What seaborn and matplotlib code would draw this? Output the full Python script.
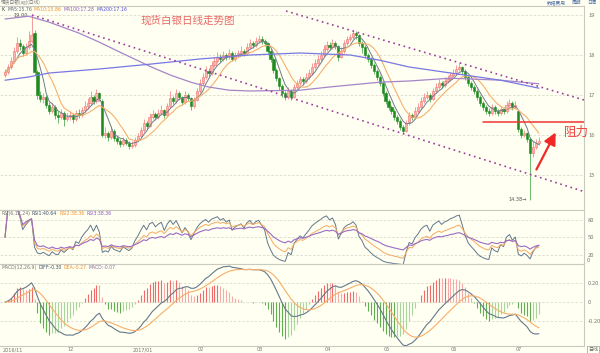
import numpy as np
import pandas as pd
import matplotlib
matplotlib.use("Agg")
import matplotlib.pyplot as plt
from matplotlib.transforms import blended_transform_factory
import seaborn as sns

# ---------------- data ----------------
opens = [17.50,17.57,17.70,17.85,18.10,18.30,18.22,18.05,18.20,18.35,
         18.55,17.57,17.00,16.90,16.95,16.75,16.60,16.70,16.50,16.45,
         16.55,16.40,16.45,16.50,16.40,16.55,16.50,16.62,16.72,16.80,
         16.95,16.85,17.05,16.85,16.00,16.05,15.95,16.10,15.92,15.85,
         15.78,15.88,15.80,15.72,15.76,15.88,15.98,16.12,16.30,16.22,
         16.45,16.52,16.45,16.55,16.62,16.50,16.72,16.92,16.85,17.05,
         16.95,16.82,17.00,16.92,16.72,16.88,17.10,17.30,17.45,17.60,
         17.55,17.75,17.85,17.95,17.90,18.00,17.95,18.05,17.90,18.00,
         18.05,18.10,18.05,18.20,18.30,18.25,18.35,18.40,18.35,18.30,
         18.10,17.90,17.62,17.42,17.22,17.05,16.95,17.10,16.95,17.20,
         17.30,17.40,17.35,17.45,17.55,17.70,17.80,17.90,18.00,18.15,
         18.25,18.20,18.30,18.22,17.95,18.10,18.30,18.40,18.45,18.55,
         18.50,18.30,18.20,18.00,17.90,17.75,17.60,17.45,17.30,17.05,
         16.85,16.70,16.60,16.45,16.35,16.20,16.10,16.30,16.50,16.45,
         16.60,16.70,16.85,16.95,17.00,16.90,17.10,17.20,17.30,17.25,
         17.35,17.40,17.50,17.55,17.65,17.70,17.60,17.45,17.30,17.20,
         17.10,16.95,16.80,16.70,16.60,16.55,16.70,16.60,16.55,16.65,
         16.60,16.75,16.80,16.70,16.60,16.15,16.00,16.05,15.90,15.55,
         15.70,15.80]
closes = [17.57,17.70,17.85,18.10,18.30,18.22,18.05,18.20,18.35,18.50,
          17.57,17.00,16.90,16.95,16.75,16.60,16.70,16.50,16.45,16.55,
          16.40,16.45,16.50,16.40,16.55,16.50,16.62,16.72,16.80,16.95,
          16.85,17.05,16.92,16.00,16.05,15.95,16.10,15.92,15.85,15.78,
          15.88,15.80,15.72,15.76,15.88,15.98,16.12,16.30,16.22,16.45,
          16.52,16.45,16.55,16.62,16.50,16.72,16.92,16.85,17.05,16.95,
          16.82,17.00,16.92,16.72,16.88,17.10,17.30,17.45,17.60,17.55,
          17.75,17.85,17.95,17.90,18.00,17.95,18.05,17.90,18.00,18.05,
          18.10,18.05,18.20,18.30,18.25,18.35,18.40,18.35,18.30,18.10,
          17.90,17.62,17.42,17.22,17.05,16.95,17.10,16.95,17.20,17.30,
          17.40,17.35,17.45,17.55,17.70,17.80,17.90,18.00,18.15,18.25,
          18.20,18.30,18.22,17.95,18.10,18.30,18.40,18.45,18.55,18.50,
          18.30,18.20,18.00,17.90,17.75,17.60,17.45,17.30,17.05,16.85,
          16.70,16.60,16.45,16.35,16.20,16.10,16.30,16.50,16.45,16.60,
          16.70,16.85,16.95,17.00,16.90,17.10,17.20,17.30,17.25,17.35,
          17.40,17.50,17.55,17.65,17.70,17.60,17.45,17.30,17.20,17.10,
          16.95,16.80,16.70,16.60,16.55,16.70,16.60,16.55,16.65,16.60,
          16.75,16.80,16.70,16.75,16.15,16.00,16.05,15.90,15.55,15.70,
          15.80,15.85]
highs = [17.65,17.78,17.95,18.20,18.45,18.40,18.28,18.30,18.60,19.00,
         18.62,17.62,17.10,17.05,17.00,16.82,16.80,16.75,16.60,16.65,
         16.60,16.55,16.60,16.55,16.62,16.65,16.70,16.85,16.92,17.10,
         17.00,17.15,17.08,16.90,16.20,16.10,16.22,16.15,15.98,15.90,
         15.95,15.92,15.85,15.85,15.95,16.05,16.20,16.40,16.35,16.55,
         16.62,16.58,16.65,16.75,16.66,16.80,17.10,16.98,17.15,17.10,
         16.98,17.10,17.05,16.95,16.95,17.18,17.40,17.55,17.72,17.68,
         17.85,17.95,18.08,18.02,18.10,18.05,18.15,18.10,18.08,18.12,
         18.22,18.15,18.30,18.40,18.35,18.45,18.50,18.48,18.40,18.33,
         18.15,17.95,17.68,17.45,17.28,17.10,17.20,17.15,17.28,17.38,
         17.48,17.45,17.55,17.65,17.80,17.90,18.00,18.10,18.25,18.35,
         18.32,18.40,18.35,18.25,18.20,18.38,18.48,18.52,18.62,18.60,
         18.52,18.35,18.25,18.05,17.95,17.80,17.65,17.50,17.35,17.10,
         16.90,16.75,16.65,16.50,16.40,16.25,16.38,16.58,16.55,16.70,
         16.80,16.95,17.05,17.10,17.05,17.18,17.30,17.40,17.35,17.45,
         17.50,17.58,17.65,17.75,17.80,17.72,17.65,17.50,17.35,17.25,
         17.15,17.00,16.85,16.75,16.68,16.78,16.75,16.65,16.72,16.70,
         16.85,16.90,16.85,16.85,16.62,16.20,16.12,16.08,15.95,15.85,
         15.90,15.95]
lows = [17.45,17.52,17.65,17.80,18.05,18.12,17.98,18.00,18.15,18.30,
        17.50,16.90,16.82,16.80,16.68,16.52,16.55,16.40,16.30,16.40,
        16.22,16.35,16.38,16.30,16.35,16.42,16.45,16.58,16.65,16.75,
        16.78,16.80,16.85,15.95,15.92,15.85,15.90,15.85,15.78,15.70,
        15.72,15.74,15.65,15.68,15.70,15.85,15.95,16.08,16.15,16.20,
        16.40,16.38,16.40,16.50,16.42,16.48,16.68,16.78,16.80,16.88,
        16.75,16.78,16.85,16.62,16.68,16.85,17.05,17.25,17.40,17.45,
        17.50,17.70,17.80,17.82,17.85,17.88,17.90,17.85,17.85,17.95,
        18.00,17.98,18.02,18.15,18.18,18.20,18.30,18.28,18.22,18.02,
        17.82,17.55,17.35,17.12,16.95,16.88,16.90,16.88,16.92,17.15,
        17.25,17.28,17.30,17.40,17.50,17.65,17.75,17.85,17.95,18.10,
        18.12,18.15,18.15,17.85,17.92,18.05,18.25,18.35,18.40,18.40,
        18.22,18.05,17.92,17.82,17.68,17.52,17.38,17.22,16.98,16.78,
        16.62,16.52,16.38,16.28,16.12,16.05,16.08,16.25,16.38,16.40,
        16.55,16.65,16.80,16.90,16.82,16.88,17.05,17.15,17.18,17.20,
        17.30,17.35,17.45,17.50,17.60,17.52,17.38,17.22,17.12,17.02,
        16.88,16.72,16.62,16.52,16.48,16.50,16.52,16.48,16.50,16.52,
        16.55,16.70,16.62,16.65,16.08,15.92,15.95,15.82,14.38,15.45,
        15.65,15.75]

ma100_idx = [0, 8, 15, 25, 32, 39, 49, 56, 63, 69, 76, 83, 100, 110, 117, 127, 137, 151, 168, 181]
ma100_val = [18.90, 18.97, 18.82, 18.55, 18.32, 18.07, 17.72, 17.50, 17.32, 17.20,
             17.12, 17.10, 17.12, 17.20, 17.25, 17.32, 17.35, 17.42, 17.37, 17.28]
ma200_idx = [0, 8, 15, 32, 49, 66, 83, 100, 117, 127, 137, 151, 168, 181]
ma200_val = [17.37, 17.45, 17.55, 17.65, 17.77, 17.90, 18.00, 18.05, 18.00, 17.87,
             17.70, 17.55, 17.37, 17.17]

month_idx = [0, 22, 44, 66, 86, 109, 129, 152, 174]
month_labels = ["2016/11", "12", "2017/01", "02", "03", "04", "05", "06", "07"]

trend_lower_x = [9.15, 196.3]
trend_lower_y = [19.0, 14.585]
trend_upper_x = [95.25, 196.3]
trend_upper_y = [19.1, 16.875]
resist_x = [162, 196.3]
resist_y = [16.33, 16.33]
arrow_tail = (179.7, 15.075)
arrow_head = (187.1, 16.125)
peak_idx, peak_val = 9, 19.00
low_idx, low_val = 178, 14.38

price_ticks = [15, 16, 17, 18, 19]
rsi_ticks = [20, 50, 80]
macd_ticks = [-0.2, 0, 0.2]
macd_tick_labels = ["-0.20", "0", "0.20"]

# ---------------- style ----------------
sns.set_theme(style="white")
plt.rcParams["font.family"] = ["Noto Sans CJK SC", "DejaVu Sans"]
BG = "#fffff2"
GRID = "#d9d9cc"
SP = "#c9c9c0"

df = pd.DataFrame({"i": np.arange(len(closes)), "open": opens, "close": closes,
                   "high": highs, "low": lows})
df["ma5"] = df["close"].rolling(5, min_periods=1).mean()
df["ma10"] = df["close"].rolling(10, min_periods=1).mean()

# RSI (Wilder smoothing)
delta = df["close"].diff().fillna(0)
up = delta.clip(lower=0)
absd = delta.abs()
for n, col in [(6, "rsi1"), (12, "rsi2"), (24, "rsi3")]:
    a = up.ewm(alpha=1 / n, adjust=False).mean()
    b = absd.ewm(alpha=1 / n, adjust=False).mean()
    df[col] = (a / b.replace(0, np.nan) * 100).fillna(50)

ema12 = df["close"].ewm(span=12, adjust=False).mean()
ema26 = df["close"].ewm(span=26, adjust=False).mean()
df["diff"] = ema12 - ema26
df["dea"] = df["diff"].ewm(span=9, adjust=False).mean()
df["macd"] = 2 * (df["diff"] - df["dea"])

fig = plt.figure(figsize=(6.0, 3.53), dpi=100, facecolor=BG)
H = 353.0
W = 600.0
renderer = fig.canvas.get_renderer()


def box(y_top, y_bot):
    return [0.0, 1 - y_bot / H, 584 / W, (y_bot - y_top) / H]


def seq_text(x0, ypx, parts, fs=3.3, gap=2.0, family="DejaVu Sans"):
    x = x0
    for txt, col in parts:
        t = fig.text(x / W, 1 - ypx / H, txt, fontsize=fs, color=col, ha="left",
                     va="center", family=family)
        x += t.get_window_extent(renderer=renderer).width + gap


ax = fig.add_axes(box(6, 210))
axr = fig.add_axes(box(210, 264))
axm = fig.add_axes(box(264, 346))

xlim = ((0 - 5) / 2.95, (584 - 5) / 2.95)
for a in (ax, axr, axm):
    a.set_facecolor(BG)
    a.set_xlim(*xlim)
    a.set_xticks([])
    a.yaxis.tick_right()
    a.tick_params(axis="y", length=0, pad=3, labelsize=4.2, labelcolor="#777777")
    for s in a.spines.values():
        s.set_color(SP)
        s.set_linewidth(0.8)
    a.spines["left"].set_visible(False)

# ---- main panel ----
ax.set_ylim(14.125, 19.225)
ax.set_yticks(price_ticks)
ax.set_yticklabels([str(t) for t in price_ticks])
for t in price_ticks:
    ax.axhline(t, color=GRID, lw=0.6, ls=(0, (3, 2)), zorder=0)

upm = df["close"] >= df["open"]
dn = ~upm
ax.vlines(df.loc[upm, "i"], df.loc[upm, "low"], df.loc[upm, "high"], color="#f39a9a", lw=0.7, zorder=2)
ax.vlines(df.loc[dn, "i"], df.loc[dn, "low"], df.loc[dn, "high"], color="#6cba6c", lw=0.7, zorder=2)
ax.bar(df.loc[upm, "i"], (df.loc[upm, "close"] - df.loc[upm, "open"]).clip(lower=0.015),
       bottom=df.loc[upm, "open"], width=0.72, color="#fab4ae", edgecolor="#f07070", lw=0.4, zorder=3)
ax.bar(df.loc[dn, "i"], (df.loc[dn, "open"] - df.loc[dn, "close"]), bottom=df.loc[dn, "close"],
       width=0.72, color="#1f8a1f", edgecolor="#1f8a1f", lw=0.4, zorder=3)

sns.lineplot(data=df, x="i", y="ma5", ax=ax, color="#6f7c8c", lw=0.7, zorder=4)
sns.lineplot(data=df, x="i", y="ma10", ax=ax, color="#f7b06e", lw=0.8, zorder=4)
sns.lineplot(x=ma100_idx, y=ma100_val, ax=ax, color="#a585c8", lw=0.9, zorder=4)
sns.lineplot(x=ma200_idx, y=ma200_val, ax=ax, color="#7878e4", lw=0.9, zorder=4)

ax.plot(trend_lower_x, trend_lower_y, color="#a03c9c", lw=1.2, ls=(0, (1, 2.2)), zorder=5)
ax.plot(trend_upper_x, trend_upper_y, color="#a03c9c", lw=1.2, ls=(0, (1, 2.2)), zorder=5)
ax.plot(resist_x, resist_y, color="#f03535", lw=1.1, zorder=5)
ax.annotate("", xy=arrow_head, xytext=arrow_tail,
            arrowprops=dict(arrowstyle="-|>,head_length=0.6,head_width=0.3", color="#f02828", lw=1.6),
            zorder=6)
ax.text(arrow_head[0] + 2.2, arrow_head[1] - 0.05, "阻力", color="#f04040", fontsize=9,
        ha="left", va="center")
ax.text(46, 19.0 - (20 - 15) / 40, "现货白银日线走势图", color="#e86a66", fontsize=7.6,
        ha="left", va="center")
ax.annotate("19.00", xy=(peak_idx - 0.6, peak_val - 0.02), xytext=(-1, 0), textcoords="offset points",
            ha="right", va="center", fontsize=3.6, color="#555555", family="DejaVu Sans")
ax.annotate("14.38→", xy=(low_idx - 0.5, low_val), xytext=(-1, 0), textcoords="offset points",
            ha="right", va="center", fontsize=3.6, color="#555555", family="DejaVu Sans")
ax.set_xlabel("")
ax.set_ylabel("")

# header rows
seq_text(2, 9.5, [("K", "#333333"), ("MA5:15.76", "#556677"), ("MA10:15.86", "#f09030"),
                  ("MA100:17.28", "#8a5cb8"), ("MA200:17.16", "#4a4ad8")])
fig.text(1 / W, 1 - 2.5 / H, "现货白银(ag)(日线)", fontsize=3.4, color="#777777", ha="left", va="center")
for xpx, txt in [(547, "数据费用"), (572, "周期"), (587, "日周")]:
    fig.text(xpx / W, 1 - 2.5 / H, txt, fontsize=3.4, color="#5a78a8", ha="left", va="center")

# ---- RSI panel ----
axr.set_ylim(4, 97)
axr.set_yticks(rsi_ticks)
axr.set_yticklabels([str(t) for t in rsi_ticks])
for t in rsi_ticks:
    axr.axhline(t, color=GRID, lw=0.6, ls=(0, (3, 2)), zorder=0)
sns.lineplot(data=df, x="i", y="rsi1", ax=axr, color="#62788c", lw=0.7)
sns.lineplot(data=df, x="i", y="rsi2", ax=axr, color="#f7a95c", lw=0.7)
sns.lineplot(data=df, x="i", y="rsi3", ax=axr, color="#9a6cc4", lw=0.8)
axr.set_xlabel("")
axr.set_ylabel("")
fig.text(587 / W, 1 - 261 / H, "0", fontsize=4.2, color="#777777", ha="left", va="center")
seq_text(1, 213.5, [("RSI(6,12,24)", "#777777"), ("RSI1:40.64", "#3c5064"),
                    ("RSI2:38.36", "#f09030"), ("RSI3:38.36", "#8a5cb8")])

# ---- MACD panel ----
axm.set_ylim(-0.463, 0.40)
axm.set_yticks(macd_ticks)
axm.set_yticklabels(macd_tick_labels)
for t in macd_ticks:
    axm.axhline(t, color=GRID, lw=0.6, ls=(0, (3, 2)), zorder=0)
mac = df["macd"].values
prev = np.r_[0, mac[:-1]]
cols = []
for v, p in zip(mac, prev):
    if v >= 0:
        cols.append("#f06a6a" if v >= p else "#f7aaaa")
    else:
        cols.append("#5fae4f" if v <= p else "#a8d59a")
axm.vlines(df["i"], 0, mac, colors=cols, lw=0.8, zorder=2)
sns.lineplot(data=df, x="i", y="diff", ax=axm, color="#66788a", lw=0.8, zorder=3)
sns.lineplot(data=df, x="i", y="dea", ax=axm, color="#f7ae68", lw=0.8, zorder=3)
axm.set_xlabel("")
axm.set_ylabel("")
seq_text(1, 267.5, [("MACD(12,26,9)", "#777777"), ("DIFF:-0.30", "#3c5064"),
                    ("DEA:-0.27", "#f09030"), ("MACD:-0.07", "#8a6ca0")])

# date labels
tr = blended_transform_factory(axm.transData, fig.transFigure)
for idx, lab in zip(month_idx, month_labels):
    axm.text(idx - 0.8, 1 - 349.5 / H, lab, transform=tr, fontsize=3.5, color="#777777",
             ha="left", va="center", clip_on=False, family="DejaVu Sans")
fig.text(593 / W, 1 - 349.5 / H, "日线", fontsize=3.6, color="#666666", ha="center", va="center",
         bbox=dict(boxstyle="square,pad=0.15", fc=BG, ec="#999999", lw=0.5))

fig.savefig("out.png", dpi=100, facecolor=BG)
